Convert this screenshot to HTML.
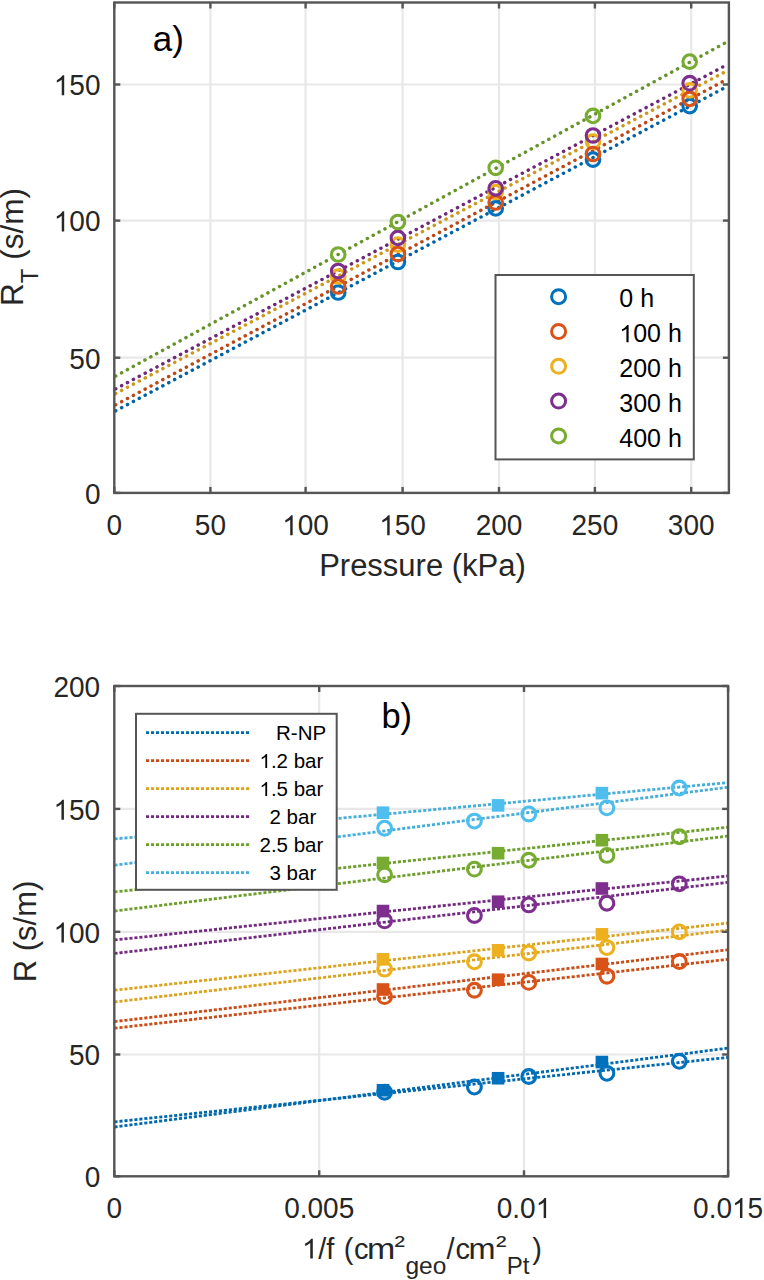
<!DOCTYPE html>
<html><head><meta charset="utf-8"><title>chart</title>
<style>
html,body{margin:0;padding:0;background:#fff;}
body{width:764px;height:1280px;overflow:hidden;}
svg{display:block;font-family:"Liberation Sans",sans-serif;}
</style></head>
<body>
<svg width="764" height="1280" viewBox="0 0 764 1280">
<rect width="764" height="1280" fill="#fff"/>
<line x1="210.40" y1="2.5" x2="210.40" y2="492.9" stroke="#e8e8e8" stroke-width="2.2"/>
<line x1="305.60" y1="2.5" x2="305.60" y2="492.9" stroke="#e8e8e8" stroke-width="2.2"/>
<line x1="402.60" y1="2.5" x2="402.60" y2="492.9" stroke="#e8e8e8" stroke-width="2.2"/>
<line x1="499.00" y1="2.5" x2="499.00" y2="492.9" stroke="#e8e8e8" stroke-width="2.2"/>
<line x1="594.90" y1="2.5" x2="594.90" y2="492.9" stroke="#e8e8e8" stroke-width="2.2"/>
<line x1="691.20" y1="2.5" x2="691.20" y2="492.9" stroke="#e8e8e8" stroke-width="2.2"/>
<line x1="114.3" y1="357.70" x2="728.9" y2="357.70" stroke="#e8e8e8" stroke-width="2.2"/>
<line x1="114.3" y1="220.60" x2="728.9" y2="220.60" stroke="#e8e8e8" stroke-width="2.2"/>
<line x1="114.3" y1="84.50" x2="728.9" y2="84.50" stroke="#e8e8e8" stroke-width="2.2"/>
<line x1="114.50" y1="411.47" x2="726.90" y2="86.59" stroke="#0062a2" stroke-width="3.4" stroke-linecap="round" stroke-dasharray="0.2 6.47" stroke-dashoffset="-1.3"/>
<line x1="114.50" y1="405.42" x2="726.90" y2="79.38" stroke="#ba4715" stroke-width="3.4" stroke-linecap="round" stroke-dasharray="0.2 6.47" stroke-dashoffset="-1.3"/>
<line x1="114.50" y1="394.14" x2="726.90" y2="70.91" stroke="#cb981b" stroke-width="3.4" stroke-linecap="round" stroke-dasharray="0.2 6.47" stroke-dashoffset="-1.3"/>
<line x1="114.50" y1="389.47" x2="726.90" y2="64.77" stroke="#6c287a" stroke-width="3.4" stroke-linecap="round" stroke-dasharray="0.2 6.47" stroke-dashoffset="-1.3"/>
<line x1="114.50" y1="376.70" x2="726.90" y2="41.96" stroke="#669329" stroke-width="3.4" stroke-linecap="round" stroke-dasharray="0.2 6.47" stroke-dashoffset="-1.3"/>
<circle cx="338.2" cy="292.5" r="6.8" fill="none" stroke="#0072BD" stroke-width="3.1"/>
<circle cx="397.9" cy="262.0" r="6.8" fill="none" stroke="#0072BD" stroke-width="3.1"/>
<circle cx="495.7" cy="208.4" r="6.8" fill="none" stroke="#0072BD" stroke-width="3.1"/>
<circle cx="593.0" cy="159.6" r="6.8" fill="none" stroke="#0072BD" stroke-width="3.1"/>
<circle cx="689.7" cy="106.1" r="6.8" fill="none" stroke="#0072BD" stroke-width="3.1"/>
<circle cx="338.2" cy="276.5" r="6.8" fill="none" stroke="#EDB120" stroke-width="3.1"/>
<circle cx="397.9" cy="244.6" r="6.8" fill="none" stroke="#EDB120" stroke-width="3.1"/>
<circle cx="495.7" cy="192.0" r="6.8" fill="none" stroke="#EDB120" stroke-width="3.1"/>
<circle cx="593.0" cy="141.5" r="6.8" fill="none" stroke="#EDB120" stroke-width="3.1"/>
<circle cx="689.7" cy="90.4" r="6.8" fill="none" stroke="#EDB120" stroke-width="3.1"/>
<circle cx="338.2" cy="286.5" r="6.8" fill="none" stroke="#D95319" stroke-width="3.1"/>
<circle cx="397.9" cy="254.0" r="6.8" fill="none" stroke="#D95319" stroke-width="3.1"/>
<circle cx="495.7" cy="202.5" r="6.8" fill="none" stroke="#D95319" stroke-width="3.1"/>
<circle cx="593.0" cy="154.0" r="6.8" fill="none" stroke="#D95319" stroke-width="3.1"/>
<circle cx="689.7" cy="98.9" r="6.8" fill="none" stroke="#D95319" stroke-width="3.1"/>
<circle cx="338.2" cy="271.0" r="6.8" fill="none" stroke="#7E2F8E" stroke-width="3.1"/>
<circle cx="397.9" cy="237.9" r="6.8" fill="none" stroke="#7E2F8E" stroke-width="3.1"/>
<circle cx="495.7" cy="188.3" r="6.8" fill="none" stroke="#7E2F8E" stroke-width="3.1"/>
<circle cx="593.0" cy="135.5" r="6.8" fill="none" stroke="#7E2F8E" stroke-width="3.1"/>
<circle cx="689.7" cy="83.2" r="6.8" fill="none" stroke="#7E2F8E" stroke-width="3.1"/>
<circle cx="338.2" cy="254.5" r="6.8" fill="none" stroke="#77AC30" stroke-width="3.1"/>
<circle cx="397.9" cy="222.0" r="6.8" fill="none" stroke="#77AC30" stroke-width="3.1"/>
<circle cx="495.7" cy="167.8" r="6.8" fill="none" stroke="#77AC30" stroke-width="3.1"/>
<circle cx="593.0" cy="115.9" r="6.8" fill="none" stroke="#77AC30" stroke-width="3.1"/>
<circle cx="689.7" cy="61.6" r="6.8" fill="none" stroke="#77AC30" stroke-width="3.1"/>
<rect x="114.3" y="2.5" width="614.60" height="490.40" fill="none" stroke="#555555" stroke-width="2.4"/>
<line x1="114.30" y1="492.9" x2="114.30" y2="486.9" stroke="#555555" stroke-width="2.4"/>
<line x1="114.30" y1="2.5" x2="114.30" y2="8.5" stroke="#555555" stroke-width="2.4"/>
<line x1="210.40" y1="492.9" x2="210.40" y2="486.9" stroke="#555555" stroke-width="2.4"/>
<line x1="210.40" y1="2.5" x2="210.40" y2="8.5" stroke="#555555" stroke-width="2.4"/>
<line x1="305.60" y1="492.9" x2="305.60" y2="486.9" stroke="#555555" stroke-width="2.4"/>
<line x1="305.60" y1="2.5" x2="305.60" y2="8.5" stroke="#555555" stroke-width="2.4"/>
<line x1="402.60" y1="492.9" x2="402.60" y2="486.9" stroke="#555555" stroke-width="2.4"/>
<line x1="402.60" y1="2.5" x2="402.60" y2="8.5" stroke="#555555" stroke-width="2.4"/>
<line x1="499.00" y1="492.9" x2="499.00" y2="486.9" stroke="#555555" stroke-width="2.4"/>
<line x1="499.00" y1="2.5" x2="499.00" y2="8.5" stroke="#555555" stroke-width="2.4"/>
<line x1="594.90" y1="492.9" x2="594.90" y2="486.9" stroke="#555555" stroke-width="2.4"/>
<line x1="594.90" y1="2.5" x2="594.90" y2="8.5" stroke="#555555" stroke-width="2.4"/>
<line x1="691.20" y1="492.9" x2="691.20" y2="486.9" stroke="#555555" stroke-width="2.4"/>
<line x1="691.20" y1="2.5" x2="691.20" y2="8.5" stroke="#555555" stroke-width="2.4"/>
<line x1="114.3" y1="492.90" x2="120.3" y2="492.90" stroke="#555555" stroke-width="2.4"/>
<line x1="728.9" y1="492.90" x2="722.9" y2="492.90" stroke="#555555" stroke-width="2.4"/>
<line x1="114.3" y1="357.70" x2="120.3" y2="357.70" stroke="#555555" stroke-width="2.4"/>
<line x1="728.9" y1="357.70" x2="722.9" y2="357.70" stroke="#555555" stroke-width="2.4"/>
<line x1="114.3" y1="220.60" x2="120.3" y2="220.60" stroke="#555555" stroke-width="2.4"/>
<line x1="728.9" y1="220.60" x2="722.9" y2="220.60" stroke="#555555" stroke-width="2.4"/>
<line x1="114.3" y1="84.50" x2="120.3" y2="84.50" stroke="#555555" stroke-width="2.4"/>
<line x1="728.9" y1="84.50" x2="722.9" y2="84.50" stroke="#555555" stroke-width="2.4"/>
<text transform="translate(106.51,535.30) scale(1,1.04)" font-size="28" fill="#262626" >0</text>
<text transform="translate(194.83,535.30) scale(1,1.04)" font-size="28" fill="#262626" >50</text>
<text transform="translate(282.24,535.30) scale(1,1.04)" font-size="28" fill="#262626" > 00</text>
<path transform="translate(282.24,535.30) scale(0.01367,-0.01422)" d="M763 0L583 0L583 1100C540 1060 483 1022 413 983C343 944 280 916 223 896L223 1062C323 1108 410 1165 485 1232C560 1299 613 1355 643 1409L763 1409Z" fill="#262626"/>
<text transform="translate(379.24,535.30) scale(1,1.04)" font-size="28" fill="#262626" > 50</text>
<path transform="translate(379.24,535.30) scale(0.01367,-0.01422)" d="M763 0L583 0L583 1100C540 1060 483 1022 413 983C343 944 280 916 223 896L223 1062C323 1108 410 1165 485 1232C560 1299 613 1355 643 1409L763 1409Z" fill="#262626"/>
<text transform="translate(475.64,535.30) scale(1,1.04)" font-size="28" fill="#262626" >200</text>
<text transform="translate(571.54,535.30) scale(1,1.04)" font-size="28" fill="#262626" >250</text>
<text transform="translate(667.84,535.30) scale(1,1.04)" font-size="28" fill="#262626" >300</text>
<text transform="translate(84.93,503.70) scale(1,1.04)" font-size="28" fill="#262626" >0</text>
<text transform="translate(69.36,368.50) scale(1,1.04)" font-size="28" fill="#262626" >50</text>
<text transform="translate(53.78,231.40) scale(1,1.04)" font-size="28" fill="#262626" > 00</text>
<path transform="translate(53.78,231.40) scale(0.01367,-0.01422)" d="M763 0L583 0L583 1100C540 1060 483 1022 413 983C343 944 280 916 223 896L223 1062C323 1108 410 1165 485 1232C560 1299 613 1355 643 1409L763 1409Z" fill="#262626"/>
<text transform="translate(53.78,95.30) scale(1,1.04)" font-size="28" fill="#262626" > 50</text>
<path transform="translate(53.78,95.30) scale(0.01367,-0.01422)" d="M763 0L583 0L583 1100C540 1060 483 1022 413 983C343 944 280 916 223 896L223 1062C323 1108 410 1165 485 1232C560 1299 613 1355 643 1409L763 1409Z" fill="#262626"/>
<text x="422.5" y="575.8" font-size="31" text-anchor="middle" fill="#262626">Pressure (kPa)</text>
<text transform="translate(23,306) rotate(-90)" font-size="31.5" fill="#262626">R<tspan font-size="24" dy="14.7">T</tspan><tspan dy="-14.7"> (s/m)</tspan></text>
<text x="152.8" y="51.3" font-size="35" fill="#000">a)</text>
<rect x="495.5" y="275.0" width="198.30" height="184.40" fill="#fff" stroke="#555555" stroke-width="2"/>
<circle cx="558.6" cy="296.70" r="7" fill="none" stroke="#0072BD" stroke-width="3"/>
<text x="619.30" y="307.40" font-size="25" fill="#000" >0 h</text>
<circle cx="558.6" cy="331.50" r="7" fill="none" stroke="#D95319" stroke-width="3"/>
<text x="619.30" y="342.20" font-size="25" fill="#000" > 00 h</text>
<path transform="translate(619.30,342.20) scale(0.01221,-0.01221)" d="M763 0L583 0L583 1100C540 1060 483 1022 413 983C343 944 280 916 223 896L223 1062C323 1108 410 1165 485 1232C560 1299 613 1355 643 1409L763 1409Z" fill="#000"/>
<circle cx="558.6" cy="366.30" r="7" fill="none" stroke="#EDB120" stroke-width="3"/>
<text x="619.30" y="377.00" font-size="25" fill="#000" >200 h</text>
<circle cx="558.6" cy="401.10" r="7" fill="none" stroke="#7E2F8E" stroke-width="3"/>
<text x="619.30" y="411.80" font-size="25" fill="#000" >300 h</text>
<circle cx="558.6" cy="435.90" r="7" fill="none" stroke="#77AC30" stroke-width="3"/>
<text x="619.30" y="446.60" font-size="25" fill="#000" >400 h</text>
<line x1="319.20" y1="686.0" x2="319.20" y2="1176.3" stroke="#e8e8e8" stroke-width="2.2"/>
<line x1="524.00" y1="686.0" x2="524.00" y2="1176.3" stroke="#e8e8e8" stroke-width="2.2"/>
<line x1="114.3" y1="1054.50" x2="728.1" y2="1054.50" stroke="#e8e8e8" stroke-width="2.2"/>
<line x1="114.3" y1="931.80" x2="728.1" y2="931.80" stroke="#e8e8e8" stroke-width="2.2"/>
<line x1="114.3" y1="808.90" x2="728.1" y2="808.90" stroke="#e8e8e8" stroke-width="2.2"/>
<line x1="114.50" y1="1121.86" x2="727.10" y2="1057.51" stroke="#0068ad" stroke-width="2.8" stroke-dasharray="3.1 1.9"/>
<line x1="114.50" y1="1127.00" x2="727.10" y2="1048.22" stroke="#0068ad" stroke-width="2.8" stroke-dasharray="3.1 1.9"/>
<line x1="114.50" y1="1021.59" x2="727.10" y2="949.90" stroke="#c74c17" stroke-width="2.8" stroke-dasharray="3.1 1.9"/>
<line x1="114.50" y1="1028.21" x2="727.10" y2="959.45" stroke="#c74c17" stroke-width="2.8" stroke-dasharray="3.1 1.9"/>
<line x1="114.50" y1="990.21" x2="727.10" y2="923.17" stroke="#daa21d" stroke-width="2.8" stroke-dasharray="3.1 1.9"/>
<line x1="114.50" y1="1001.97" x2="727.10" y2="930.29" stroke="#daa21d" stroke-width="2.8" stroke-dasharray="3.1 1.9"/>
<line x1="114.50" y1="939.95" x2="727.10" y2="876.10" stroke="#732b82" stroke-width="2.8" stroke-dasharray="3.1 1.9"/>
<line x1="114.50" y1="953.44" x2="727.10" y2="882.48" stroke="#732b82" stroke-width="2.8" stroke-dasharray="3.1 1.9"/>
<line x1="114.50" y1="891.90" x2="727.10" y2="827.31" stroke="#6d9e2c" stroke-width="2.8" stroke-dasharray="3.1 1.9"/>
<line x1="114.50" y1="911.02" x2="727.10" y2="836.15" stroke="#6d9e2c" stroke-width="2.8" stroke-dasharray="3.1 1.9"/>
<line x1="114.50" y1="838.96" x2="727.10" y2="782.68" stroke="#46aeda" stroke-width="2.8" stroke-dasharray="3.1 1.9"/>
<line x1="114.50" y1="865.18" x2="727.10" y2="787.37" stroke="#46aeda" stroke-width="2.8" stroke-dasharray="3.1 1.9"/>
<rect x="376.70" y="1083.95" width="12.6" height="12.6" fill="#0072BD"/>
<rect x="491.80" y="1071.94" width="12.6" height="12.6" fill="#0072BD"/>
<rect x="595.60" y="1055.76" width="12.6" height="12.6" fill="#0072BD"/>
<circle cx="384.6" cy="1092.21" r="6.9" fill="none" stroke="#0072BD" stroke-width="3.1"/>
<circle cx="474.4" cy="1087.07" r="6.9" fill="none" stroke="#0072BD" stroke-width="3.1"/>
<circle cx="528.8" cy="1076.52" r="6.9" fill="none" stroke="#0072BD" stroke-width="3.1"/>
<circle cx="606.9" cy="1073.34" r="6.9" fill="none" stroke="#0072BD" stroke-width="3.1"/>
<circle cx="679.3" cy="1061.32" r="6.9" fill="none" stroke="#0072BD" stroke-width="3.1"/>
<rect x="376.70" y="983.20" width="12.6" height="12.6" fill="#D95319"/>
<rect x="491.80" y="973.39" width="12.6" height="12.6" fill="#D95319"/>
<rect x="595.60" y="957.70" width="12.6" height="12.6" fill="#D95319"/>
<circle cx="384.6" cy="996.61" r="6.9" fill="none" stroke="#D95319" stroke-width="3.1"/>
<circle cx="474.4" cy="990.23" r="6.9" fill="none" stroke="#D95319" stroke-width="3.1"/>
<circle cx="528.8" cy="982.39" r="6.9" fill="none" stroke="#D95319" stroke-width="3.1"/>
<circle cx="606.9" cy="976.26" r="6.9" fill="none" stroke="#D95319" stroke-width="3.1"/>
<circle cx="679.3" cy="961.55" r="6.9" fill="none" stroke="#D95319" stroke-width="3.1"/>
<rect x="376.70" y="953.04" width="12.6" height="12.6" fill="#EDB120"/>
<rect x="491.80" y="943.97" width="12.6" height="12.6" fill="#EDB120"/>
<rect x="595.60" y="928.04" width="12.6" height="12.6" fill="#EDB120"/>
<circle cx="384.6" cy="969.15" r="6.9" fill="none" stroke="#EDB120" stroke-width="3.1"/>
<circle cx="474.4" cy="961.79" r="6.9" fill="none" stroke="#EDB120" stroke-width="3.1"/>
<circle cx="528.8" cy="952.97" r="6.9" fill="none" stroke="#EDB120" stroke-width="3.1"/>
<circle cx="606.9" cy="947.58" r="6.9" fill="none" stroke="#EDB120" stroke-width="3.1"/>
<circle cx="679.3" cy="931.89" r="6.9" fill="none" stroke="#EDB120" stroke-width="3.1"/>
<rect x="376.70" y="904.75" width="12.6" height="12.6" fill="#7E2F8E"/>
<rect x="491.80" y="895.43" width="12.6" height="12.6" fill="#7E2F8E"/>
<rect x="595.60" y="882.19" width="12.6" height="12.6" fill="#7E2F8E"/>
<circle cx="384.6" cy="920.85" r="6.9" fill="none" stroke="#7E2F8E" stroke-width="3.1"/>
<circle cx="474.4" cy="915.46" r="6.9" fill="none" stroke="#7E2F8E" stroke-width="3.1"/>
<circle cx="528.8" cy="904.92" r="6.9" fill="none" stroke="#7E2F8E" stroke-width="3.1"/>
<circle cx="606.9" cy="903.20" r="6.9" fill="none" stroke="#7E2F8E" stroke-width="3.1"/>
<circle cx="679.3" cy="883.84" r="6.9" fill="none" stroke="#7E2F8E" stroke-width="3.1"/>
<rect x="376.70" y="856.70" width="12.6" height="12.6" fill="#77AC30"/>
<rect x="491.80" y="846.89" width="12.6" height="12.6" fill="#77AC30"/>
<rect x="595.60" y="833.90" width="12.6" height="12.6" fill="#77AC30"/>
<circle cx="384.6" cy="874.77" r="6.9" fill="none" stroke="#77AC30" stroke-width="3.1"/>
<circle cx="474.4" cy="869.13" r="6.9" fill="none" stroke="#77AC30" stroke-width="3.1"/>
<circle cx="528.8" cy="860.30" r="6.9" fill="none" stroke="#77AC30" stroke-width="3.1"/>
<circle cx="606.9" cy="855.40" r="6.9" fill="none" stroke="#77AC30" stroke-width="3.1"/>
<circle cx="679.3" cy="836.77" r="6.9" fill="none" stroke="#77AC30" stroke-width="3.1"/>
<rect x="376.70" y="806.44" width="12.6" height="12.6" fill="#4DBEEE"/>
<rect x="491.80" y="799.09" width="12.6" height="12.6" fill="#4DBEEE"/>
<rect x="595.60" y="786.83" width="12.6" height="12.6" fill="#4DBEEE"/>
<circle cx="384.6" cy="828.19" r="6.9" fill="none" stroke="#4DBEEE" stroke-width="3.1"/>
<circle cx="474.4" cy="821.08" r="6.9" fill="none" stroke="#4DBEEE" stroke-width="3.1"/>
<circle cx="528.8" cy="813.97" r="6.9" fill="none" stroke="#4DBEEE" stroke-width="3.1"/>
<circle cx="606.9" cy="807.84" r="6.9" fill="none" stroke="#4DBEEE" stroke-width="3.1"/>
<circle cx="679.3" cy="787.98" r="6.9" fill="none" stroke="#4DBEEE" stroke-width="3.1"/>
<rect x="114.3" y="686.0" width="613.80" height="490.30" fill="none" stroke="#555555" stroke-width="2.4"/>
<line x1="114.30" y1="1176.3" x2="114.30" y2="1170.3" stroke="#555555" stroke-width="2.4"/>
<line x1="114.30" y1="686.0" x2="114.30" y2="692.0" stroke="#555555" stroke-width="2.4"/>
<line x1="319.20" y1="1176.3" x2="319.20" y2="1170.3" stroke="#555555" stroke-width="2.4"/>
<line x1="319.20" y1="686.0" x2="319.20" y2="692.0" stroke="#555555" stroke-width="2.4"/>
<line x1="524.00" y1="1176.3" x2="524.00" y2="1170.3" stroke="#555555" stroke-width="2.4"/>
<line x1="524.00" y1="686.0" x2="524.00" y2="692.0" stroke="#555555" stroke-width="2.4"/>
<line x1="728.10" y1="1176.3" x2="728.10" y2="1170.3" stroke="#555555" stroke-width="2.4"/>
<line x1="728.10" y1="686.0" x2="728.10" y2="692.0" stroke="#555555" stroke-width="2.4"/>
<line x1="114.3" y1="1176.30" x2="120.3" y2="1176.30" stroke="#555555" stroke-width="2.4"/>
<line x1="728.1" y1="1176.30" x2="722.1" y2="1176.30" stroke="#555555" stroke-width="2.4"/>
<line x1="114.3" y1="1054.50" x2="120.3" y2="1054.50" stroke="#555555" stroke-width="2.4"/>
<line x1="728.1" y1="1054.50" x2="722.1" y2="1054.50" stroke="#555555" stroke-width="2.4"/>
<line x1="114.3" y1="931.80" x2="120.3" y2="931.80" stroke="#555555" stroke-width="2.4"/>
<line x1="728.1" y1="931.80" x2="722.1" y2="931.80" stroke="#555555" stroke-width="2.4"/>
<line x1="114.3" y1="808.90" x2="120.3" y2="808.90" stroke="#555555" stroke-width="2.4"/>
<line x1="728.1" y1="808.90" x2="722.1" y2="808.90" stroke="#555555" stroke-width="2.4"/>
<line x1="114.3" y1="686.00" x2="120.3" y2="686.00" stroke="#555555" stroke-width="2.4"/>
<line x1="728.1" y1="686.00" x2="722.1" y2="686.00" stroke="#555555" stroke-width="2.4"/>
<text transform="translate(106.51,1218.10) scale(1,1.04)" font-size="28" fill="#262626" >0</text>
<text transform="translate(284.17,1218.10) scale(1,1.04)" font-size="28" fill="#262626" >0.005</text>
<text transform="translate(496.75,1218.10) scale(1,1.04)" font-size="28" fill="#262626" >0.0 </text>
<path transform="translate(535.68,1218.10) scale(0.01367,-0.01422)" d="M763 0L583 0L583 1100C540 1060 483 1022 413 983C343 944 280 916 223 896L223 1062C323 1108 410 1165 485 1232C560 1299 613 1355 643 1409L763 1409Z" fill="#262626"/>
<text transform="translate(693.07,1218.10) scale(1,1.04)" font-size="28" fill="#262626" >0.0 5</text>
<path transform="translate(731.99,1218.10) scale(0.01367,-0.01422)" d="M763 0L583 0L583 1100C540 1060 483 1022 413 983C343 944 280 916 223 896L223 1062C323 1108 410 1165 485 1232C560 1299 613 1355 643 1409L763 1409Z" fill="#262626"/>
<text transform="translate(84.63,1187.10) scale(1,1.04)" font-size="28" fill="#262626" >0</text>
<text transform="translate(69.06,1065.30) scale(1,1.04)" font-size="28" fill="#262626" >50</text>
<text transform="translate(53.48,942.60) scale(1,1.04)" font-size="28" fill="#262626" > 00</text>
<path transform="translate(53.48,942.60) scale(0.01367,-0.01422)" d="M763 0L583 0L583 1100C540 1060 483 1022 413 983C343 944 280 916 223 896L223 1062C323 1108 410 1165 485 1232C560 1299 613 1355 643 1409L763 1409Z" fill="#262626"/>
<text transform="translate(53.48,819.70) scale(1,1.04)" font-size="28" fill="#262626" > 50</text>
<path transform="translate(53.48,819.70) scale(0.01367,-0.01422)" d="M763 0L583 0L583 1100C540 1060 483 1022 413 983C343 944 280 916 223 896L223 1062C323 1108 410 1165 485 1232C560 1299 613 1355 643 1409L763 1409Z" fill="#262626"/>
<text transform="translate(53.48,696.80) scale(1,1.04)" font-size="28" fill="#262626" >200</text>
<text x="302.00" y="1258.60" font-size="29" fill="#262626" > /f</text>
<path transform="translate(302.00,1258.60) scale(0.01416,-0.01416)" d="M763 0L583 0L583 1100C540 1060 483 1022 413 983C343 944 280 916 223 896L223 1062C323 1108 410 1165 485 1232C560 1299 613 1355 643 1409L763 1409Z" fill="#262626"/>
<text x="343.80" y="1258.60" font-size="29" fill="#262626">(</text>
<text x="353.90" y="1258.60" font-size="29" fill="#262626">c</text>
<text transform="translate(367.05,1258.60) scale(1.17,1)" font-size="29" fill="#262626">m</text>
<text transform="translate(394.60,1254.70) scale(1.12,1)" font-size="28" fill="#262626">²</text>
<text x="405.40" y="1273.70" font-size="24.5" fill="#262626">geo</text>
<text x="446.50" y="1258.60" font-size="29" fill="#262626">/</text>
<text x="455.50" y="1258.60" font-size="29" fill="#262626">c</text>
<text transform="translate(468.60,1258.60) scale(1.12,1)" font-size="29" fill="#262626">m</text>
<text transform="translate(495.90,1254.70) scale(1.12,1)" font-size="28" fill="#262626">²</text>
<text x="506.80" y="1273.70" font-size="24" fill="#262626">Pt</text>
<text x="532.20" y="1258.60" font-size="29" fill="#262626">)</text>
<text transform="translate(36.1,982.2) rotate(-90)" font-size="31" fill="#262626">R (s/m)</text>
<text x="381.4" y="727.9" font-size="34.5" fill="#000">b)</text>
<rect x="136.0" y="713.8" width="200.70" height="176.00" fill="#fff" stroke="#555555" stroke-width="2"/>
<line x1="146" y1="732.70" x2="250" y2="732.70" stroke="#0068ad" stroke-width="2.8" stroke-dasharray="3.1 1.9"/>
<text x="276.00" y="740.10" font-size="20.5" fill="#000" >R-NP</text>
<line x1="146" y1="760.70" x2="250" y2="760.70" stroke="#c74c17" stroke-width="2.8" stroke-dasharray="3.1 1.9"/>
<text x="259.50" y="768.10" font-size="20.5" fill="#000" > .2 bar</text>
<path transform="translate(259.50,768.10) scale(0.01001,-0.01001)" d="M763 0L583 0L583 1100C540 1060 483 1022 413 983C343 944 280 916 223 896L223 1062C323 1108 410 1165 485 1232C560 1299 613 1355 643 1409L763 1409Z" fill="#000"/>
<line x1="146" y1="788.70" x2="250" y2="788.70" stroke="#daa21d" stroke-width="2.8" stroke-dasharray="3.1 1.9"/>
<text x="259.50" y="796.10" font-size="20.5" fill="#000" > .5 bar</text>
<path transform="translate(259.50,796.10) scale(0.01001,-0.01001)" d="M763 0L583 0L583 1100C540 1060 483 1022 413 983C343 944 280 916 223 896L223 1062C323 1108 410 1165 485 1232C560 1299 613 1355 643 1409L763 1409Z" fill="#000"/>
<line x1="146" y1="816.70" x2="250" y2="816.70" stroke="#732b82" stroke-width="2.8" stroke-dasharray="3.1 1.9"/>
<text x="269.50" y="824.10" font-size="20.5" fill="#000" >2 bar</text>
<line x1="146" y1="844.70" x2="250" y2="844.70" stroke="#6d9e2c" stroke-width="2.8" stroke-dasharray="3.1 1.9"/>
<text x="259.50" y="852.10" font-size="20.5" fill="#000" >2.5 bar</text>
<line x1="146" y1="872.70" x2="250" y2="872.70" stroke="#46aeda" stroke-width="2.8" stroke-dasharray="3.1 1.9"/>
<text x="269.50" y="880.10" font-size="20.5" fill="#000" >3 bar</text>
</svg>
</body></html>
